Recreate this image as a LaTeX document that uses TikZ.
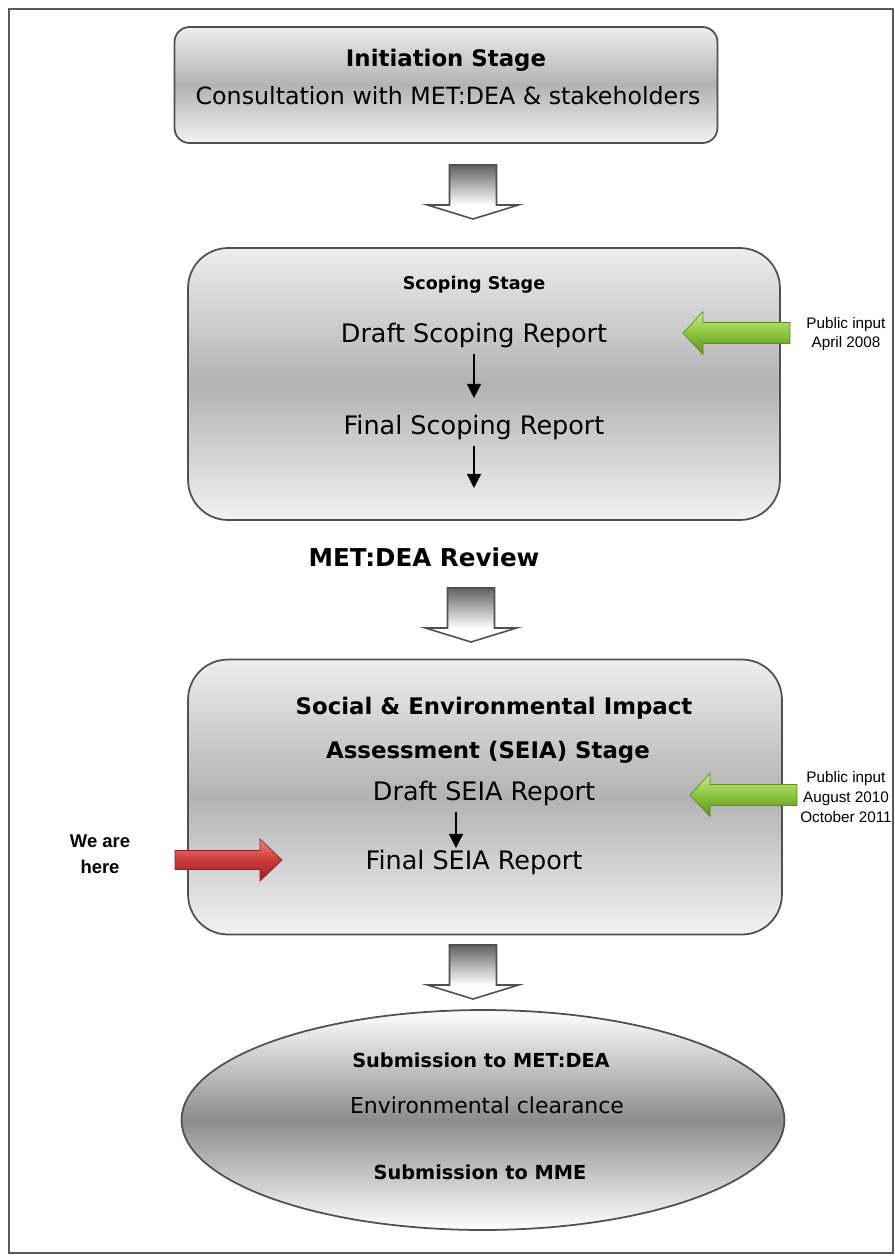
\documentclass[tikz,border=0pt]{standalone}
\usepackage{fontspec}
\setmainfont{DejaVu Sans}
\newfontfamily\arialfont{Liberation Sans}
\usepackage{tikz}
\usetikzlibrary{shapes.geometric, arrows.meta}
\usepackage{xcolor}
\definecolor{StageLine}{HTML}{505050}
\definecolor{FrameGray}{HTML}{5A5A5A}
\definecolor{ArrowGreenTop}{HTML}{CDEA8E}
\definecolor{ArrowGreen}{HTML}{8CC63F}
\definecolor{ArrowGreenDark}{HTML}{5E8E20}
\definecolor{ArrowRedTop}{HTML}{EC8585}
\definecolor{ArrowRed}{HTML}{CC3A3A}
\definecolor{ArrowRedDark}{HTML}{962020}

\begin{document}
\begin{tikzpicture}[x=0.02cm, y=-0.02cm, font=\fontsize{14.5}{17}\selectfont,
    stagebox/.style={draw=StageLine, line width=1pt, shading=axis,
      top color=black!7, bottom color=black!5, middle color=black!30},
    stagetitle/.style={font=\bfseries\fontsize{13}{15}\selectfont},
    sidelabel/.style={font=\arialfont\fontsize{8.7}{11.2}\selectfont, align=center},
    flowarr/.style={-{Triangle[length=8pt, width=8pt]}, line width=0.7pt},
    blockdown/.pic={
      \fill[white] (-45.5,40) -- (45.5,40) -- (0,54) -- cycle;
      \shade[top color=black!62, bottom color=white] (-23.5,0) rectangle (23.5,40);
      \draw[StageLine, line width=0.9pt] (-23.5,0) -- (23.5,0) -- (23.5,40) -- (45.5,40)
        -- (0,54) -- (-45.5,40) -- (-23.5,40) -- cycle;
    },
    greenleft/.pic={
      \shadedraw[top color=ArrowGreenTop, bottom color=ArrowGreenDark, middle color=ArrowGreen,
        draw=ArrowGreenDark, line width=0.4pt]
        (0,0) -- (20,-21.5) -- (20,-10.5) -- (107,-10.5) -- (107,10.5) -- (20,10.5) -- (20,21.5) -- cycle;
    },
    redright/.pic={
      \shadedraw[top color=ArrowRedTop, bottom color=ArrowRedDark, middle color=ArrowRed,
        draw=ArrowRedDark, line width=0.4pt]
        (0,0) -- (-22,-21) -- (-22,-9.5) -- (-107,-9.5) -- (-107,9.5) -- (-22,9.5) -- (-22,21) -- cycle;
    }]
    \useasboundingbox (0,0) rectangle (895,1259);

    % Frame
    \draw[FrameGray, line width=1.3pt] (9,9) rectangle (893,1253);

    % Stages
    \node[stagebox, rounded corners=0.3cm, minimum width=10.86cm, minimum height=2.32cm] (initiation) at (446,85) {};
    \node[stagebox, rounded corners=0.8cm, minimum width=11.84cm, minimum height=5.44cm] (scoping) at (484,384) {};
    \node[stagebox, rounded corners=0.8cm, minimum width=11.88cm, minimum height=5.5cm] (seia) at (485,797) {};
    \node[stagebox, ellipse, top color=white, bottom color=white, middle color=black!45,
      minimum width=12.06cm, minimum height=4.4cm, inner sep=0] (clearance) at (483,1120) {};

    % Block arrows
    \pic at (473,165) {blockdown};
    \pic at (471,588) {blockdown};
    \pic at (473,945) {blockdown};
    \pic at (683,333) {greenleft};
    \pic at (690,795) {greenleft};
    \pic at (282,860) {redright};

    % Texts
    \node[stagetitle] (inittitle) at (446,60) {Initiation Stage};
    \node[font=\fontsize{13.5}{16}\selectfont] (initsub) at (448,96) {Consultation with MET:DEA \& stakeholders};
    \node[stagetitle, font=\bfseries\fontsize{10}{12}\selectfont] (scopetitle) at (474,285) {Scoping Stage};
    \node (draftscope) at (474,335) {Draft Scoping Report};
    \node (finalscope) at (474,427) {Final Scoping Report};
    \coordinate (scopeend) at (474,488);
    \node[stagetitle, font=\bfseries\fontsize{14}{16}\selectfont] (review) at (424,557) {MET:DEA Review};
    \node[stagetitle] (seiatitle1) at (494,708) {Social \& Environmental Impact};
    \node[stagetitle] (seiatitle2) at (488,752) {Assessment (SEIA) Stage};
    \node (draftseia) at (484,793) {Draft SEIA Report};
    \node (finalseia) at (474,862) {Final SEIA Report};
    \coordinate (seiaend) at (456,848);
    \node[stagetitle, font=\bfseries\fontsize{11}{13}\selectfont] (submitdea) at (481,1060) {Submission to MET:DEA};
    \node[font=\fontsize{12.5}{15}\selectfont] (envclear) at (487,1105) {Environmental clearance};
    \node[stagetitle, font=\bfseries\fontsize{11}{13}\selectfont] (submitmme) at (480,1172) {Submission to MME};

    \draw[flowarr, shorten >=6pt] (draftscope) -- (finalscope);
    \draw[flowarr] (finalscope) -- (scopeend);
    \draw[flowarr] (draftseia.south -| seiaend) -- (seiaend);

    % Labels
    \node[sidelabel] (public1) at (846,334) {Public input\\April 2008};
    \node[sidelabel] (public2) at (846,797) {Public input\\August 2010\\October 2011};
    \node[sidelabel, font=\arialfont\bfseries\fontsize{10.5}{14.7}\selectfont] (weare) at (100,854) {We are\\here};
\end{tikzpicture}
\end{document}
